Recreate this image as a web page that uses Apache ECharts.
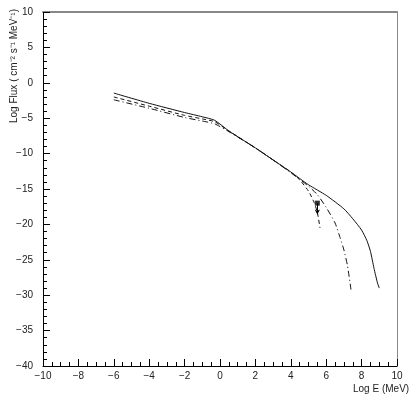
<!DOCTYPE html>
<html>
<head>
<meta charset="utf-8">
<script src="https://cdn.jsdelivr.net/npm/echarts@6/dist/echarts.min.js"></script>
<style>
  html, body { margin: 0; padding: 0; background: #fff; }
  #chart { width: 414px; height: 401px; }
</style>
</head>
<body>
<div id="chart"></div>
<script>
// values (log E, log flux)
const solidX = [-6, -4, -2, -1, -0.3, 0.5, 2, 3, 4, 5, 6, 7, 7.5, 8, 8.3, 8.5, 8.7, 8.9, 9]
const solidY = [-1.45, -2.9, -4.2, -4.8, -5.3, -6.8, -9.2, -10.9, -12.6, -14.4, -15.9, -17.8, -19.2, -20.8, -22.3, -23.8, -26.2, -28.3, -29.0]

const dashX = [-6, -4, -2, -1, -0.3, 0.5, 2, 3, 4, 4.5, 5, 5.3, 5.5, 5.65]
const dashY = [-2.0, -3.3, -4.6, -5.1, -5.5, -6.8, -9.2, -10.9, -12.6, -13.7, -15.3, -16.8, -18.3, -20.5]

const dotDashX = [-6, -4, -2, -1, -0.3, 0.5, 2, 3, 4, 5, 5.5, 6, 6.5, 6.8, 7.0, 7.2, 7.4]
const dotDashY = [-2.4, -3.6, -4.9, -5.4, -5.8, -6.9, -9.2, -10.9, -12.7, -14.6, -15.8, -17.6, -19.8, -22.0, -23.6, -25.8, -29.2]

// upper limit point with arrow
const limitX = [5.5]
const limitY = [-17]
const limitTo = [-18.6]

const xTicks = [-10, 10, 2]   // min, max, step
const yTicks = [-40, 10, 5]

const pairs = (xs, ys) => xs.map((x, i) => [x, ys[i]])
const minus = v => String(v).replace('-', '\u2212')
const FONT = 'Liberation Sans, Arial, sans-serif'

const chart = echarts.init(document.getElementById('chart'), null, { renderer: 'canvas' })

const lineSeries = (data, type) => ({
  type: 'line', data, showSymbol: false, smooth: 0.2,
  lineStyle: { color: '#111', width: 1, type },
  animation: false
})

// plain frame line on the top and right sides
const frame = (pos, color, width) => ({
  type: 'value', position: pos,
  min: pos === 'top' ? xTicks[0] : yTicks[0], max: pos === 'top' ? xTicks[1] : yTicks[1],
  axisLine: { show: true, onZero: false, lineStyle: { color, width } },
  axisTick: { show: false }, axisLabel: { show: false }, splitLine: { show: false }
})

chart.setOption({
  backgroundColor: '#fff',
  grid: { left: 43, right: 17, top: 12, bottom: 35 },
  xAxis: [{
    type: 'value', min: xTicks[0], max: xTicks[1], interval: xTicks[2],
    splitLine: { show: false },
    axisLine: { onZero: false, lineStyle: { color: '#000', width: 1 } },
    axisTick: { inside: true, length: 7, lineStyle: { color: '#000' } },
    minorTick: { show: true, splitNumber: 4, length: 4, lineStyle: { color: '#000' } },
    axisLabel: { color: '#222', fontSize: 10, fontFamily: FONT, margin: 5, formatter: minus }
  }, frame('top', '#888', 2)],
  yAxis: [{
    type: 'value', min: yTicks[0], max: yTicks[1], interval: yTicks[2],
    splitLine: { show: false },
    axisLine: { show: true, onZero: false, lineStyle: { color: '#000', width: 1 } },
    axisTick: { show: true, inside: true, length: 7, lineStyle: { color: '#000' } },
    minorTick: { show: true, splitNumber: 5, length: 4, lineStyle: { color: '#000' } },
    axisLabel: { color: '#222', fontSize: 10, fontFamily: FONT, margin: 10, formatter: minus }
  }, frame('right', '#888', 1)],
  graphic: [{
    type: 'text', left: 353, top: 384,
    style: { text: 'Log E (MeV)', fill: '#222', fontSize: 10, fontFamily: FONT }
  }, {
    type: 'text', x: 14, y: 66, rotation: Math.PI / 2,
    style: {
      text: 'Log Flux ( cm\u207B\u00B2 s\u207B\u00B9 MeV\u207B\u00B9)',
      fill: '#222', fontSize: 10, fontFamily: FONT,
      align: 'center', verticalAlign: 'middle'
    }
  }],
  series: [
    lineSeries(pairs(solidX, solidY), 'solid'),
    lineSeries(pairs(dashX, dashY), [4, 3]),
    lineSeries(pairs(dotDashX, dotDashY), [6, 3, 1, 3]),
    {
      type: 'scatter', data: pairs(limitX, limitY),
      symbol: 'rect', symbolSize: 5, itemStyle: { color: '#000' },
      animation: false,
      markLine: {
        silent: true, animation: false,
        symbol: ['none', 'arrow'], symbolSize: [4, 5],
        label: { show: false },
        lineStyle: { color: '#000', width: 1, type: 'solid' },
        data: limitX.map((x, i) => [{ coord: [x, limitY[i]] }, { coord: [x, limitTo[i]] }])
      }
    }
  ]
})
</script>
</body>
</html>
